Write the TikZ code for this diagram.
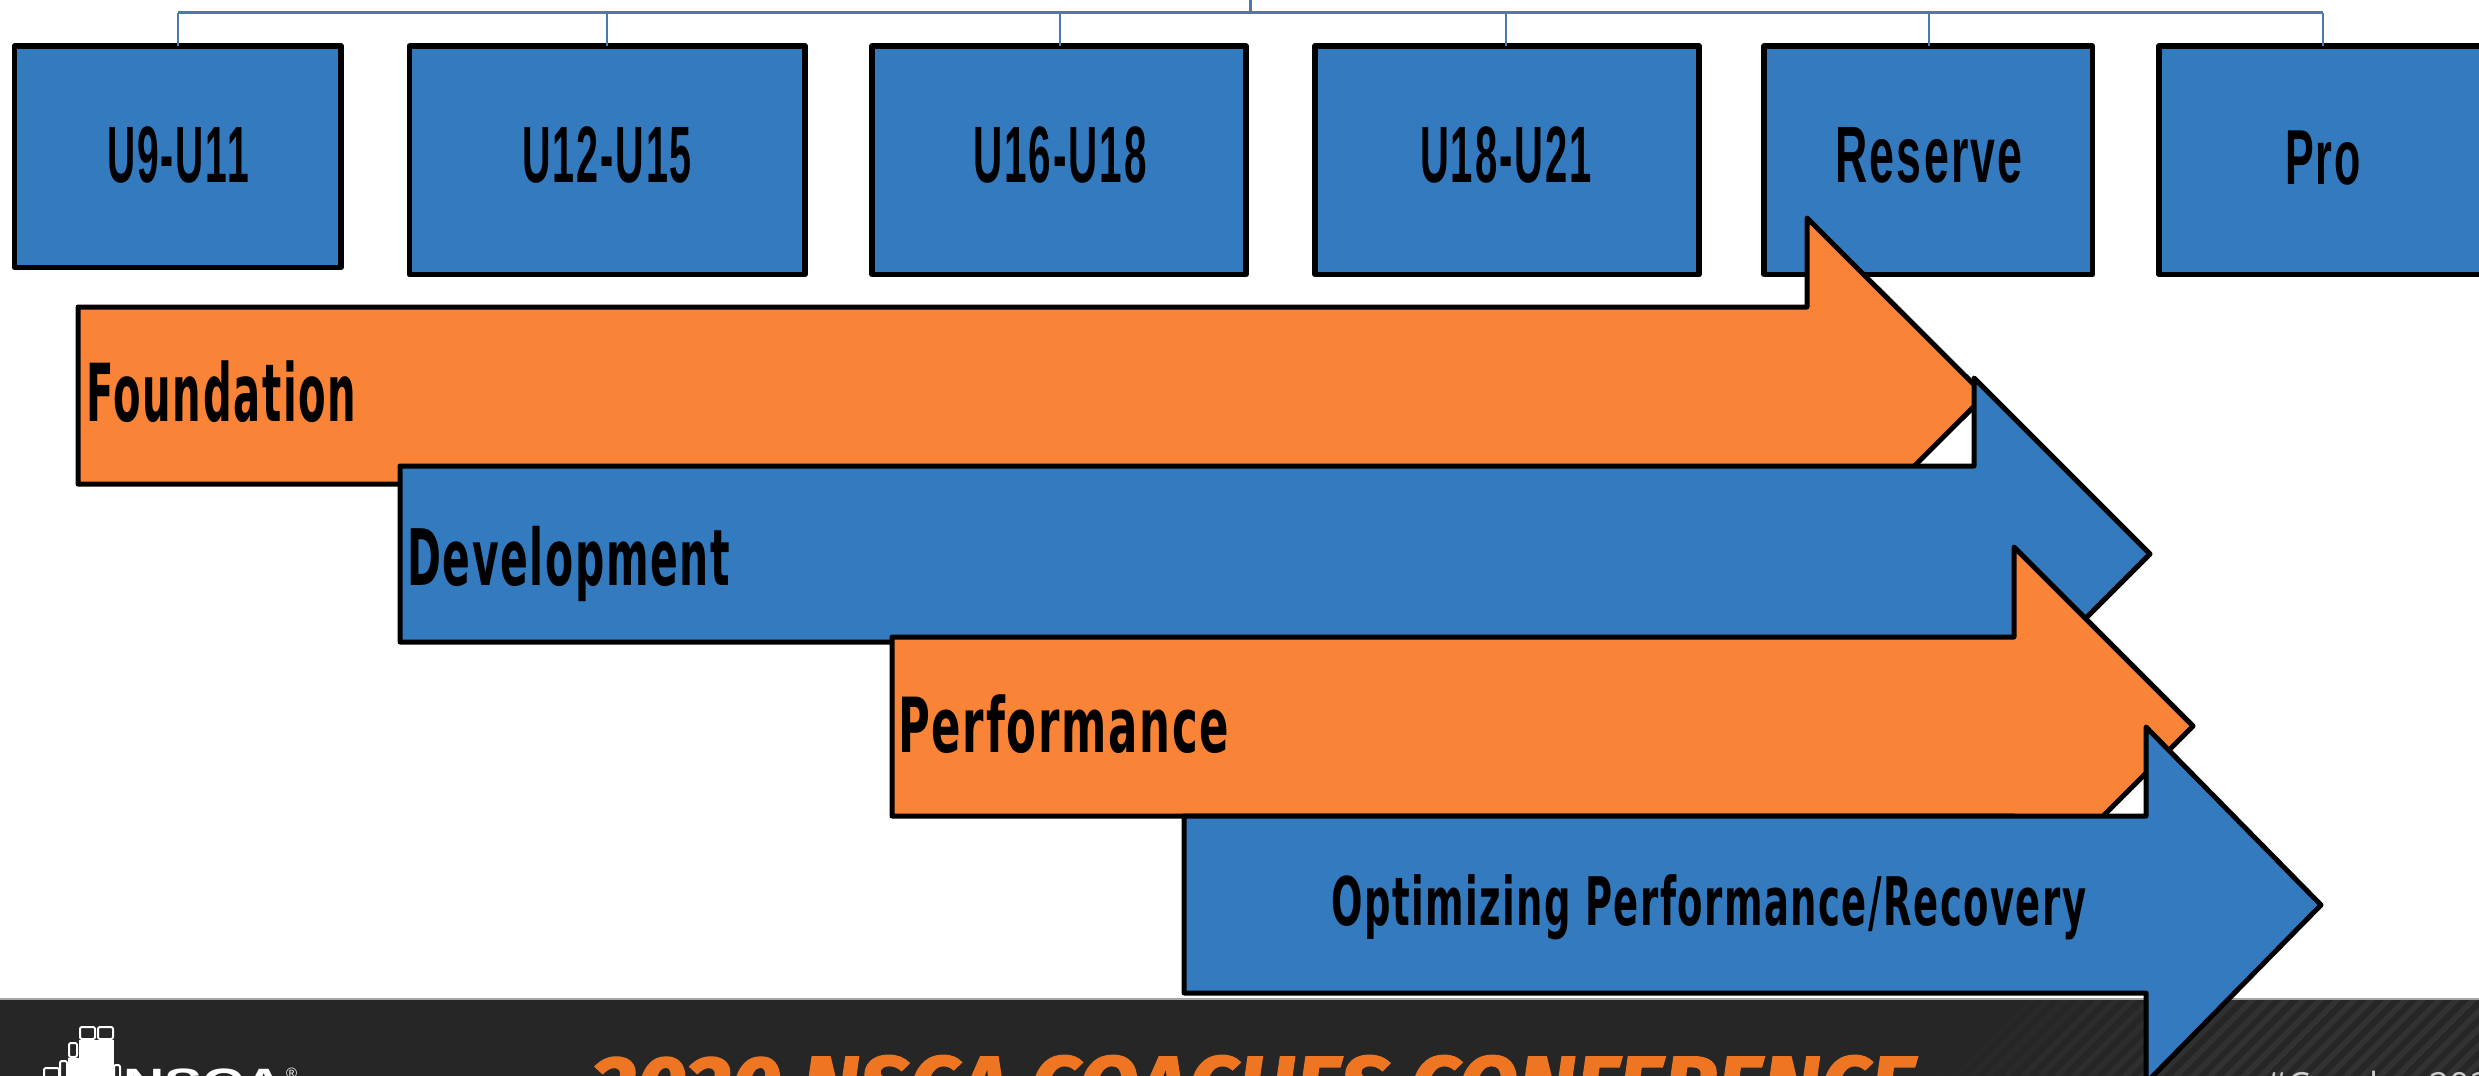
\documentclass[tikz,border=0pt]{standalone}
\usepackage{fontspec}
\usepackage{graphicx}
\setmainfont{Liberation Sans}
\newfontfamily\lblfont{Liberation Sans}[BoldFont={Liberation Sans Bold},LetterSpace=5]
\newfontfamily\heavyfont{DejaVu Sans Bold}[LetterSpace=4]
\newfontfamily\confont{Fira Sans}[BoldItalicFeatures={FakeBold=1.6}]
\newfontfamily\hashfont{Open Sans}
\newcommand{\squeeze}[3]{\resizebox{#1pt}{\height}{\fontsize{#2pt}{#2pt}\selectfont #3}}
\definecolor{barblue}{HTML}{337ABF}
\definecolor{barorange}{HTML}{F98438}
\definecolor{linkblue}{HTML}{4A7AAF}
\definecolor{footdark}{HTML}{262626}
\definecolor{stripe}{HTML}{323232}
\definecolor{conforange}{HTML}{EE7623}
\tikzset{
  x=1pt,y=-1pt,
  agebox/.style={draw=black,line width=5.5pt,fill=barblue,line join=round,rectangle,inner sep=0pt,outer sep=0pt,anchor=north west},
  agetext/.style={inner sep=0pt,anchor=base,text=black},
  barlabel/.style={inner sep=0pt,anchor=base west,text=black},
  bararrow/.style={draw=black,line width=5pt,line join=round},
  busline/.style={draw=linkblue,line width=3pt},
  dropline/.style={draw=linkblue,line width=2pt},
  logoblock/.style={draw=white,line width=2pt,rounded corners=2pt,fill=footdark},
}
\begin{document}
\begin{tikzpicture}
\useasboundingbox (0,0) rectangle (2479,1076);
\clip (0,0) rectangle (2479,1076);
\fill[white] (0,0) rectangle (2479,1076);

% footer band
\fill[footdark] (0,999) rectangle (2479,1076);
\begin{scope}
  \clip (0,999) rectangle (2479,1076);
  \foreach \sx in {1900,1917,...,2500}{
    \pgfmathsetmacro{\k}{max(0,min(100,(\sx-1900)/3))}
    \fill[stripe!\k!footdark] (\sx,1076) -- (\sx+8,1076) -- (\sx+86,998) -- (\sx+78,998) -- cycle;
  }
\end{scope}
\draw[draw=gray!70,line width=1.5pt] (0,999) -- (2479,999);

% logo
\fill[white] (79,1040) rectangle (114,1076);
\fill[white] (68,1058) rectangle (79,1076);
\draw[logoblock] (80,1027) rectangle (95,1039);
\draw[logoblock] (98,1027) rectangle (113,1039);
\draw[logoblock] (69,1043) rectangle (77,1057);
\draw[logoblock] (60,1061) rectangle (67,1078);
\draw[logoblock] (44,1068) rectangle (59,1080);
\draw[logoblock] (114,1065) rectangle (120,1080);
\node[barlabel,text=white] (nsca) at (123,1097) {\squeeze{162}{41}{\textbf{NSCA}}};
\node[barlabel,text=white] (regmark) at (286,1078) {\fontsize{15pt}{15pt}\selectfont ®};

% footer texts
\node[barlabel,text=conforange] (conf) at (591,1117) {\squeeze{1324}{87}{\confont\bfseries\itshape 2020 NSCA COACHES CONFERENCE}};
\node[barlabel,text=black!20] (hash) at (2264,1098) {\fontsize{36pt}{36pt}\selectfont\hashfont\#Coaches2020};

% age boxes
\node[agebox,minimum width=326.5pt,minimum height=221.5pt] (b1) at (14.5,46) {};
\node[agebox,minimum width=395.5pt,minimum height=228.5pt] (b2) at (409.5,46) {};
\node[agebox,minimum width=374pt,minimum height=228.5pt] (b3) at (872,46) {};
\node[agebox,minimum width=384pt,minimum height=228.5pt] (b4) at (1315,46) {};
\node[agebox,minimum width=328.5pt,minimum height=228.5pt] (b5) at (1764,46) {};
\node[agebox,minimum width=400pt,minimum height=228.5pt] (b6) at (2159,46) {};

\node[agetext] (t1) at (178,182) {\squeeze{142}{80}{\lblfont\bfseries U9-U11}};
\node[agetext] (t2) at (607,182) {\squeeze{170}{80}{\lblfont\bfseries U12-U15}};
\node[agetext] (t3) at (1060,182) {\squeeze{174}{80}{\lblfont\bfseries U16-U18}};
\node[agetext] (t4) at (1506,182) {\squeeze{172}{80}{\lblfont\bfseries U18-U21}};
\node[agetext] (t5) at (1929,182) {\squeeze{187}{80}{\lblfont\bfseries Reserve}};
\node[agetext] (t6) at (2323,184) {\squeeze{76}{78}{\lblfont\bfseries Pro}};

% connectors
\coordinate (trunk) at (1250,0);
\coordinate (busL) at (178,12.5);
\coordinate (busR) at (2323,12.5);
\draw[busline] (trunk) -- (trunk |- busL);
\draw[busline] (busL) -- (busR);
\draw[dropline] (busL) -- (b1.north -| t1);
\draw[dropline] (busL -| t2) -- (b2.north -| t2);
\draw[dropline] (busL -| t3) -- (b3.north -| t3);
\draw[dropline] (busL -| t4) -- (b4.north -| t4);
\draw[dropline] (busL -| t5) -- (b5.north -| t5);
\draw[dropline] (busR) -- (b6.north -| t6);

% stage arrows
\draw[bararrow,fill=barorange] (78,307) -- (1807,307) -- (1807,218) -- (1985,395.5) -- (1807,573) -- (1807,484) -- (78,484) -- cycle;
\draw[bararrow,fill=barblue] (400,466) -- (1974,466) -- (1974,378) -- (2150,554) -- (1974,730) -- (1974,642) -- (400,642) -- cycle;
\draw[bararrow,fill=barorange] (892,637) -- (2014,637) -- (2014,547) -- (2193,726) -- (2014,905) -- (2014,816) -- (892,816) -- cycle;
\draw[bararrow,fill=barblue] (1184,816) -- (2146,816) -- (2146,727) -- (2321,905) -- (2146,1083) -- (2146,993) -- (1184,993) -- cycle;

\node[barlabel] (l1) at (86,421) {\squeeze{270}{80}{\heavyfont Foundation}};
\node[barlabel] (l2) at (407,585) {\squeeze{323}{78}{\heavyfont Development}};
\node[barlabel] (l3) at (898,752) {\squeeze{331}{76}{\heavyfont Performance}};
\node[barlabel] (l4) at (1331,925) {\squeeze{755}{67}{\heavyfont Optimizing Performance/Recovery}};
\end{tikzpicture}
\end{document}
